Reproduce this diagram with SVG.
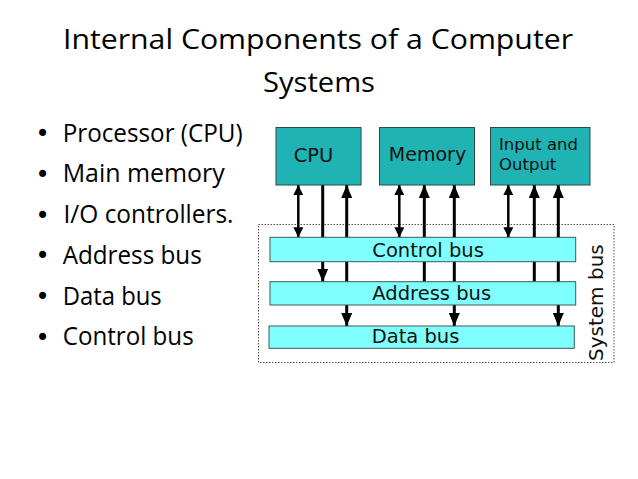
<svg xmlns="http://www.w3.org/2000/svg" width="638" height="479" viewBox="0 0 638 479">
<style>
.title{font-family:"Open Sans","Liberation Sans",sans-serif;font-size:28px;fill:#000}
.bul{font-family:"Open Sans","Liberation Sans",sans-serif;font-size:25px;fill:#000}
.dot{font-family:"DejaVu Sans",sans-serif;font-size:24px;fill:#000}
.box{fill:#1fb3b3;stroke:#2a4a4a;stroke-width:1}
.bus{fill:#80ffff;stroke:#3a5a5a;stroke-width:1}
.lbl{font-family:"DejaVu Sans",sans-serif;fill:#111}
.thin{stroke:#000;stroke-width:2.5;fill:none}
.thick{stroke:#000;stroke-width:3;fill:none}
</style>
<defs>
<marker id="hs" markerUnits="userSpaceOnUse" viewBox="0 0 10 10" refX="10" refY="5" markerWidth="10" markerHeight="10" orient="auto-start-reverse"><path d="M0,0 L10,5 L0,10 Z" fill="#000"/></marker>
<marker id="hb" markerUnits="userSpaceOnUse" viewBox="0 0 13 11" refX="13" refY="5.5" markerWidth="13" markerHeight="11" orient="auto-start-reverse"><path d="M0,0 L13,5.5 L0,11 Z" fill="#000"/></marker>
</defs>
<rect width="638" height="479" fill="#fff"/>
<text class="title" x="318" y="49" text-anchor="middle" textLength="510" lengthAdjust="spacingAndGlyphs">Internal Components of a Computer</text>
<text class="title" x="319" y="91.5" text-anchor="middle" textLength="112" lengthAdjust="spacingAndGlyphs">Systems</text>
<g id="bullets">
<text class="dot" x="35.5" y="142">•</text><text class="bul" x="62.7" y="141.5" textLength="180" lengthAdjust="spacingAndGlyphs">Processor (CPU)</text>
<text class="dot" x="35.5" y="182.5">•</text><text class="bul" x="62.7" y="182" textLength="162" lengthAdjust="spacingAndGlyphs">Main memory</text>
<text class="dot" x="35.5" y="223.5">•</text><text class="bul" x="63.5" y="223" textLength="170" lengthAdjust="spacingAndGlyphs">I/O controllers.</text>
<text class="dot" x="35.5" y="264">•</text><text class="bul" x="62.7" y="263.5" textLength="139" lengthAdjust="spacingAndGlyphs">Address bus</text>
<text class="dot" x="35.5" y="305">•</text><text class="bul" x="62.7" y="304.5" textLength="99" lengthAdjust="spacingAndGlyphs">Data bus</text>
<text class="dot" x="35.5" y="345.5">•</text><text class="bul" x="62.7" y="345" textLength="131" lengthAdjust="spacingAndGlyphs">Control bus</text>
</g>
<g id="system-bus">
<rect x="258.5" y="224.5" width="355.5" height="138" fill="none" stroke="#555" stroke-width="1" stroke-dasharray="1.5,1.5"/>
<text class="lbl" font-size="20" transform="translate(603,361) rotate(-90)">System bus</text>
</g>
<g id="connectors">
<line class="thin" x1="298.3" y1="185" x2="298.3" y2="237.3" marker-start="url(#hs)" marker-end="url(#hs)"/>
<line class="thick" x1="322.7" y1="185" x2="322.7" y2="281.7" marker-end="url(#hb)"/>
<line class="thick" x1="346.7" y1="185" x2="346.7" y2="326" marker-start="url(#hb)" marker-end="url(#hb)"/>
<line class="thin" x1="399.3" y1="185" x2="399.3" y2="237.3" marker-start="url(#hs)" marker-end="url(#hs)"/>
<line class="thick" x1="424.3" y1="281.7" x2="424.3" y2="185" marker-end="url(#hb)"/>
<line class="thick" x1="454.3" y1="185" x2="454.3" y2="326" marker-start="url(#hb)" marker-end="url(#hb)"/>
<line class="thin" x1="508.3" y1="185" x2="508.3" y2="237.3" marker-start="url(#hs)" marker-end="url(#hs)"/>
<line class="thick" x1="534.3" y1="281.7" x2="534.3" y2="185" marker-end="url(#hb)"/>
<line class="thick" x1="558.3" y1="185" x2="558.3" y2="326" marker-start="url(#hb)" marker-end="url(#hb)"/>
</g>
<g id="cpu">
<rect class="box" x="276" y="127.5" width="85" height="57.5"/>
<text class="lbl" font-size="19.5" x="313.5" y="161.5" text-anchor="middle">CPU</text>
</g>
<g id="memory">
<rect class="box" x="379.5" y="127.5" width="95" height="57.5"/>
<text class="lbl" font-size="19" x="427.5" y="160.7" text-anchor="middle">Memory</text>
</g>
<g id="io">
<rect class="box" x="490.5" y="127.5" width="99.5" height="57.5"/>
<text class="lbl" font-size="16.5" x="499" y="150">Input and</text>
<text class="lbl" font-size="16.5" x="499" y="169.5">Output</text>
</g>
<g id="control-bus">
<rect class="bus" x="270" y="237.3" width="305.7" height="24.4"/>
<text class="lbl" font-size="19.5" x="372.3" y="256.5">Control bus</text>
</g>
<g id="address-bus">
<rect class="bus" x="270" y="281.7" width="305.7" height="23.3"/>
<text class="lbl" font-size="19.5" x="372.3" y="300">Address bus</text>
</g>
<g id="data-bus">
<rect class="bus" x="269" y="326" width="305.3" height="22.3"/>
<text class="lbl" font-size="19.5" x="371.7" y="343.3">Data bus</text>
</g>
</svg>
